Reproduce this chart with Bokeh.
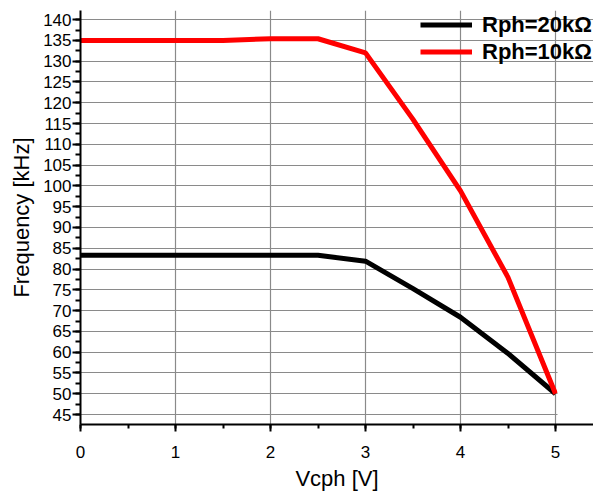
from bokeh.plotting import figure
from bokeh.models import (Range1d, SingleIntervalTicker, Legend, LegendItem,
                          BoxAnnotation)
from bokeh.embed import file_html
from bokeh.resources import INLINE

# ---- data ----
vcph = [0, 0.5, 1, 1.5, 2, 2.5, 3, 3.5, 4, 4.5, 5]
freq_20k = [83.3, 83.3, 83.3, 83.3, 83.3, 83.3, 81.9, 75.3, 68.4, 59.7, 50.0]
freq_10k = [135.0, 135.0, 135.0, 135.0, 135.4, 135.4, 132.0, 116.0, 98.8, 78.0, 50.0]
label_20k = "Rph=20kΩ"
label_10k = "Rph=10kΩ"
x_title = "Vcph [V]"
y_title = "Frequency [kHz]"

FONT = "Liberation Sans"

p = figure(width=593, height=495, output_backend="svg", toolbar_location=None,
           x_range=Range1d(0, 5.4), y_range=Range1d(42.6, 142.2),
           min_border_left=80, min_border_right=0, min_border_top=10,
           min_border_bottom=71)
p.outline_line_color = None
p.background_fill_color = "white"

# grids
p.xgrid.grid_line_color = "#8a8a8a"
p.ygrid.grid_line_color = "#8a8a8a"
p.xgrid.grid_line_width = 1.2
p.ygrid.grid_line_width = 1.2

# white patch behind legend labels
box = BoxAnnotation(left=477, right=593, top=0, bottom=64,
                    left_units="screen", right_units="screen",
                    top_units="screen", bottom_units="screen",
                    fill_color="white", fill_alpha=1.0, line_alpha=0,
                    level="glyph")
p.add_layout(box)

r20 = p.line(vcph, freq_20k, line_color="black", line_width=5)
r10 = p.line(vcph, freq_10k, line_color="#ff0000", line_width=5)

# axes
p.xaxis.ticker = SingleIntervalTicker(interval=1, num_minor_ticks=2)
p.yaxis.ticker = SingleIntervalTicker(interval=5, num_minor_ticks=2)
for ax in (p.xaxis[0], p.yaxis[0]):
    ax.axis_line_color = "black"
    ax.axis_line_width = 2
    ax.major_tick_line_color = "black"
    ax.minor_tick_line_color = "black"
    ax.major_tick_line_width = 2
    ax.minor_tick_line_width = 2
    ax.major_tick_in = 0
    ax.minor_tick_in = 0
    ax.major_label_text_font = FONT
    ax.major_label_text_font_size = "17px"
    ax.major_label_text_color = "black"
    ax.axis_label_text_font = FONT
    ax.axis_label_text_font_size = "22px"
    ax.axis_label_text_font_style = "normal"
    ax.axis_label_text_color = "black"

p.xaxis.major_tick_out = 7
p.xaxis.minor_tick_out = 4
p.yaxis.major_tick_out = 8
p.yaxis.minor_tick_out = 5
p.xaxis.major_label_standoff = 14
p.yaxis.major_label_standoff = 1
p.xaxis.axis_label = x_title
p.yaxis.axis_label = y_title
p.xaxis.axis_label_standoff = 5
p.yaxis.axis_label_standoff = 6

legend = Legend(items=[LegendItem(label=label_20k, renderers=[r20]),
                       LegendItem(label=label_10k, renderers=[r10])],
                location=(340, 359), orientation="vertical",
                background_fill_alpha=0, border_line_color=None,
                padding=0, margin=0, spacing=0,
                glyph_width=52, glyph_height=27, label_height=27,
                label_standoff=10,
                label_text_font=FONT, label_text_font_size="22px",
                label_text_font_style="bold", label_text_color="black")
p.add_layout(legend)

open("out.html", "w").write(file_html(p, INLINE))
